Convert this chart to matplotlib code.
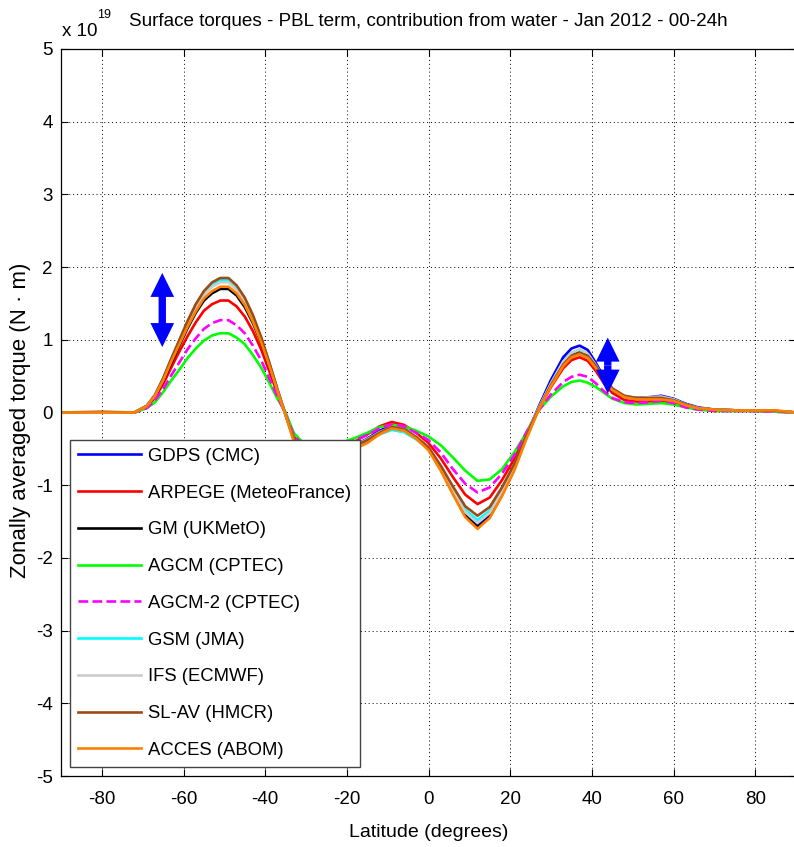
import matplotlib
matplotlib.use("Agg")
import matplotlib.pyplot as plt

plt.rcParams['font.family'] = ['Liberation Sans', 'DejaVu Sans']

# Latitude nodes (degrees)
lat = [-90, -80, -72, -69, -67, -65, -63, -61, -59, -57, -55, -53, -51, -49, -47, -45,
       -43, -41, -39, -37, -35, -33, -30, -27, -24, -21, -18, -15, -12, -9, -6, -3,
       0, 3, 6, 9, 12, 15, 18, 21, 24, 27, 30, 33, 35, 37, 39, 41, 43, 45, 48, 51,
       54, 57, 60, 63, 66, 70, 75, 80, 85, 90]

# Zonally averaged PBL torque from water, in units of 1e19 N.m
gdps = [0, 0, 0, 0.09, 0.23, 0.45, 0.72, 0.98, 1.23, 1.45, 1.64, 1.75, 1.81, 1.81, 1.71, 1.55,
        1.31, 1.02, 0.67, 0.31, -0.03, -0.36, -0.57, -0.62, -0.59, -0.52, -0.45, -0.36, -0.25, -0.18, -0.22, -0.34,
        -0.48, -0.76, -1.09, -1.39, -1.55, -1.41, -1.10, -0.75, -0.32,
        0.08, 0.45, 0.76, 0.88, 0.92, 0.86, 0.68, 0.48, 0.33, 0.22, 0.20, 0.21, 0.23, 0.19, 0.12, 0.07, 0.04, 0.03, 0.03, 0.02, 0.0]
arpege = [0, 0, 0, 0.08, 0.20, 0.39, 0.62, 0.84, 1.05, 1.24, 1.40, 1.49, 1.54, 1.54, 1.46, 1.32,
          1.12, 0.87, 0.57, 0.26, -0.02, -0.33, -0.53, -0.58, -0.55, -0.48, -0.40, -0.30, -0.19, -0.13, -0.17, -0.28,
          -0.42, -0.63, -0.89, -1.13, -1.26, -1.17, -0.93, -0.64, -0.28,
          0.05, 0.35, 0.61, 0.72, 0.76, 0.71, 0.57, 0.40, 0.27, 0.17, 0.15, 0.15, 0.16, 0.14, 0.09, 0.05, 0.03, 0.03, 0.02, 0.02, 0.0]
gm = [0, 0, 0, 0.09, 0.22, 0.43, 0.68, 0.92, 1.16, 1.37, 1.54, 1.64, 1.70, 1.70, 1.61, 1.45,
      1.23, 0.96, 0.63, 0.29, -0.03, -0.37, -0.58, -0.63, -0.60, -0.54, -0.47, -0.38, -0.27, -0.19, -0.23, -0.35,
      -0.50, -0.78, -1.11, -1.42, -1.58, -1.44, -1.13, -0.78, -0.34,
      0.05, 0.38, 0.67, 0.79, 0.83, 0.78, 0.63, 0.45, 0.31, 0.21, 0.19, 0.19, 0.20, 0.17, 0.10, 0.06, 0.04, 0.03, 0.03, 0.02, 0.0]
agcm = [0, 0, 0, 0.06, 0.14, 0.28, 0.44, 0.59, 0.75, 0.88, 0.99, 1.06, 1.09, 1.09, 1.03, 0.94,
        0.79, 0.62, 0.41, 0.19, 0.0, -0.28, -0.46, -0.50, -0.47, -0.41, -0.35, -0.28, -0.20, -0.17, -0.19, -0.25,
        -0.33, -0.45, -0.62, -0.80, -0.94, -0.92, -0.78, -0.55, -0.28,
        0.03, 0.22, 0.36, 0.42, 0.44, 0.41, 0.35, 0.27, 0.19, 0.13, 0.11, 0.12, 0.13, 0.11, 0.07, 0.04, 0.02, 0.02, 0.02, 0.01, 0.0]
agcm2 = [0, 0, 0, 0.06, 0.17, 0.32, 0.51, 0.69, 0.87, 1.02, 1.15, 1.23, 1.27, 1.27, 1.20, 1.09,
         0.92, 0.72, 0.47, 0.22, -0.02, -0.31, -0.50, -0.55, -0.52, -0.45, -0.38, -0.31, -0.22, -0.16, -0.19, -0.28,
         -0.38, -0.55, -0.78, -0.98, -1.10, -1.03, -0.84, -0.59, -0.27,
         0.03, 0.25, 0.42, 0.49, 0.52, 0.49, 0.40, 0.29, 0.20, 0.14, 0.13, 0.14, 0.16, 0.13, 0.07, 0.04, 0.02, 0.02, 0.02, 0.01, 0.0]
gsm = [0, 0, 0, 0.09, 0.24, 0.46, 0.73, 0.99, 1.24, 1.46, 1.65, 1.76, 1.82, 1.82, 1.72, 1.56,
       1.32, 1.02, 0.68, 0.31, -0.03, -0.37, -0.58, -0.63, -0.60, -0.54, -0.47, -0.40, -0.30, -0.24, -0.27, -0.37,
       -0.50, -0.76, -1.06, -1.34, -1.48, -1.35, -1.06, -0.73, -0.31,
       0.06, 0.40, 0.70, 0.82, 0.86, 0.80, 0.64, 0.46, 0.32, 0.21, 0.19, 0.20, 0.21, 0.18, 0.11, 0.06, 0.04, 0.03, 0.03, 0.02, 0.0]
ifs = [0, 0, 0, 0.09, 0.23, 0.45, 0.72, 0.97, 1.22, 1.44, 1.62, 1.73, 1.79, 1.79, 1.69, 1.53,
       1.30, 1.01, 0.67, 0.31, -0.03, -0.36, -0.57, -0.62, -0.59, -0.52, -0.45, -0.37, -0.27, -0.20, -0.23, -0.34,
       -0.48, -0.75, -1.07, -1.37, -1.52, -1.38, -1.09, -0.75, -0.32,
       0.06, 0.40, 0.70, 0.82, 0.87, 0.81, 0.65, 0.46, 0.32, 0.22, 0.20, 0.21, 0.22, 0.18, 0.11, 0.06, 0.04, 0.03, 0.03, 0.02, 0.0]
slav = [0, 0.01, 0, 0.09, 0.24, 0.47, 0.74, 1.00, 1.26, 1.49, 1.67, 1.79, 1.85, 1.85, 1.75, 1.58,
        1.34, 1.04, 0.69, 0.32, -0.03, -0.36, -0.57, -0.62, -0.59, -0.53, -0.46, -0.38, -0.28, -0.20, -0.23, -0.34,
        -0.48, -0.73, -1.02, -1.29, -1.42, -1.30, -1.03, -0.71, -0.31,
        0.05, 0.38, 0.66, 0.78, 0.82, 0.78, 0.64, 0.47, 0.33, 0.23, 0.20, 0.20, 0.20, 0.17, 0.11, 0.06, 0.04, 0.03, 0.03, 0.02, 0.0]
acces = [0, 0, 0, 0.09, 0.23, 0.44, 0.70, 0.94, 1.18, 1.39, 1.57, 1.67, 1.73, 1.73, 1.64, 1.48,
         1.25, 0.97, 0.64, 0.30, -0.04, -0.40, -0.60, -0.65, -0.62, -0.56, -0.50, -0.42, -0.30, -0.22, -0.25, -0.36,
         -0.52, -0.80, -1.13, -1.44, -1.60, -1.45, -1.15, -0.80, -0.36,
         0.04, 0.36, 0.64, 0.76, 0.80, 0.75, 0.61, 0.45, 0.31, 0.21, 0.18, 0.18, 0.18, 0.16, 0.10, 0.06, 0.04, 0.03, 0.03, 0.03, 0.0]

labels = ['GDPS (CMC)', 'ARPEGE (MeteoFrance)', 'GM (UKMetO)', 'AGCM (CPTEC)',
          'AGCM-2 (CPTEC)', 'GSM (JMA)', 'IFS (ECMWF)', 'SL-AV (HMCR)', 'ACCES (ABOM)']
series = [gdps, arpege, gm, agcm, agcm2, gsm, ifs, slav, acces]
colors = ['#0000ff', '#ff0000', '#000000', '#00ff00', '#ff00ff', '#00ffff',
          '#cccccc', '#994c19', '#ff8000']
styles = ['-', '-', '-', '-', '--', '-', '-', '-', '-']

x_ticks = [-80, -60, -40, -20, 0, 20, 40, 60, 80]
y_ticks = [-5, -4, -3, -2, -1, 0, 1, 2, 3, 4, 5]

# Spread indicators: (latitude, lower value, upper value)
spread_arrows = [(-65.2, 0.90, 1.92), (43.9, 0.26, 1.03)]

W, H = 794, 847
fig = plt.figure(figsize=(W / 100, H / 100), dpi=100)
ax = fig.add_axes([61 / W, (H - 776) / H, (796 - 61) / W, (776 - 49) / H])

for y, lab, c, ls in zip(series, labels, colors, styles):
    ax.plot(lat, y, color=c, linestyle=ls, linewidth=1.9, label=lab)

ax.set_xlim(-90, 90)
ax.set_ylim(-5, 5)
ax.set_xticks(x_ticks)
ax.set_yticks(y_ticks)
ax.set_xticklabels([str(v) for v in x_ticks])
ax.set_yticklabels([str(v) for v in y_ticks])
ax.tick_params(direction='in', length=5, width=0.8, top=True, right=True,
               labelsize=13.5, colors='black')
ax.tick_params(axis='x', pad=11)
ax.tick_params(axis='y', pad=6)
ax.grid(True, linestyle=(0, (1, 3)), color='black', linewidth=0.7)
for s in ax.spines.values():
    s.set_linewidth(0.9)

# Double-headed arrows marking the model spread at the two extrema
for x0, lo, hi in spread_arrows:
    mid = 0.5 * (lo + hi)
    for end in (hi, lo):
        ax.arrow(x0, mid, 0, end - mid, width=1.8, head_width=5.8,
                 head_length=0.33, length_includes_head=True,
                 color='#0000ff', linewidth=0, zorder=5)

leg = ax.legend(loc='lower left', bbox_to_anchor=(0.012, 0.012), fontsize=13.3,
                handlelength=3.4, handletextpad=0.4, labelspacing=1.07,
                borderpad=0.45, fancybox=False, framealpha=1, borderaxespad=0)
leg.get_frame().set_edgecolor('#444444')
leg.get_frame().set_linewidth(1.0)
leg.set_zorder(10)

fig.text(428.5 / W, 1 - 22 / H,
         'Surface torques - PBL term, contribution from water - Jan 2012 - 00-24h',
         ha='center', va='center', fontsize=13.6)
fig.text(62 / W, 1 - 32 / H, 'x 10', ha='left', va='center', fontsize=13.5)
fig.text(97 / W, 1 - 15 / H, '19', ha='left', va='center', fontsize=9)
fig.text(21 / W, 1 - 420 / H, 'Zonally averaged torque (N · m)', rotation=90,
         ha='center', va='center', fontsize=16)
fig.text(428.5 / W, 1 - 832 / H, 'Latitude (degrees)', ha='center', va='center',
         fontsize=14)

fig.savefig('out.png', dpi=100)
